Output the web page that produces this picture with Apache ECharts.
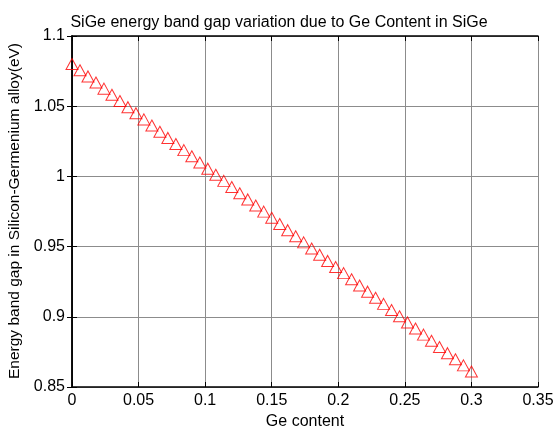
<!DOCTYPE html>
<html>
<head>
<meta charset="utf-8">
<script src="https://cdn.jsdelivr.net/npm/echarts@6/dist/echarts.min.js"></script>
<style>html,body{margin:0;padding:0;background:#fff;}#c{width:560px;height:430px;}</style>
</head>
<body>
<div id="c"></div>
<script>
var geContent = [0,0.006,0.012,0.018,0.024,0.03,0.036,0.042,0.048,0.054,0.06,0.066,0.072,0.078,0.084,0.09,0.096,0.102,0.108,0.114,0.12,0.126,0.132,0.138,0.144,0.15,0.156,0.162,0.168,0.174,0.18,0.186,0.192,0.198,0.204,0.21,0.216,0.222,0.228,0.234,0.24,0.246,0.252,0.258,0.264,0.27,0.276,0.282,0.288,0.294,0.3];
var bandGap = [1.0800,1.0756,1.0712,1.0669,1.0625,1.0581,1.0537,1.0493,1.0450,1.0406,1.0362,1.0318,1.0274,1.0231,1.0187,1.0143,1.0099,1.0055,1.0012,0.9968,0.9924,0.9880,0.9836,0.9793,0.9749,0.9705,0.9661,0.9617,0.9574,0.9530,0.9486,0.9442,0.9398,0.9355,0.9311,0.9267,0.9223,0.9179,0.9136,0.9092,0.9048,0.9004,0.8960,0.8917,0.8873,0.8829,0.8785,0.8741,0.8698,0.8654,0.8610];
var xTicks = ['0','0.05','0.1','0.15','0.2','0.25','0.3','0.35'];
var yTicks = ['0.85','0.9','0.95','1','1.05','1.1'];

var data = geContent.map(function(x, i){ return [x, bandGap[i]]; });
var font = 'Liberation Sans, Arial, sans-serif';
var chart = echarts.init(document.getElementById('c'), null, {renderer:'canvas'});
var axisLine = {show:true, lineStyle:{color:'#000', width:1.5}};
var axisTick = {show:true, inside:true, length:5, lineStyle:{color:'#000'}};
chart.setOption({
  backgroundColor:'#fff',
  animation:false,
  title:{text:'SiGe energy band gap variation due to Ge Content in SiGe', left:274, top:10, textAlign:'center',
    textStyle:{fontFamily:font, fontSize:16, fontWeight:'normal', color:'#000'}},
  grid:{left:72, right:22, top:36, bottom:43, containLabel:false, outerBoundsMode:'none'},
  xAxis:[
    {type:'value', min:0, max:0.35, interval:0.05, position:'bottom',
      name:'Ge content', nameLocation:'middle', nameGap:26,
      nameTextStyle:{fontFamily:font, fontSize:16, color:'#000'},
      axisLine:axisLine, axisTick:axisTick,
      axisLabel:{fontFamily:font, fontSize:16, color:'#000', margin:6,
        formatter:function(v){ var i=Math.round(v/0.05); return xTicks[i]; }},
      splitLine:{show:true, lineStyle:{color:'#8c8c8c', width:1}}
    },
    {type:'value', min:0, max:0.35, interval:0.05, position:'top', axisLabel:{show:false},
      axisLine:axisLine, axisTick:axisTick, splitLine:{show:false}}
  ],
  yAxis:[
    {type:'value', min:0.85, max:1.1, interval:0.05, position:'left',
      axisLine:axisLine, axisTick:axisTick,
      axisLabel:{fontFamily:font, fontSize:16, color:'#000', margin:7,
        formatter:function(v){ var i=Math.round((v-0.85)/0.05); return yTicks[i]; }},
      splitLine:{show:true, lineStyle:{color:'#8c8c8c', width:1}}
    },
    {type:'value', min:0.85, max:1.1, interval:0.05, position:'right', axisLabel:{show:false},
      axisLine:axisLine, axisTick:axisTick, splitLine:{show:false}}
  ],
  graphic:[{
    type:'text', x:15, y:211, rotation:Math.PI/2,
    style:{text:'Energy band gap in Silicon-Germenium alloy(eV)', fontFamily:font, fontSize:15.5, fill:'#000',
      textAlign:'center', textVerticalAlign:'middle'}
  }],
  series:[{
    type:'scatter',
    data:data,
    symbol:'triangle',
    symbolSize:[12,11],
    itemStyle:{color:'rgba(255,255,255,0)', borderColor:'#ff0000', borderWidth:1}
  }]
});
</script>
</body>
</html>
